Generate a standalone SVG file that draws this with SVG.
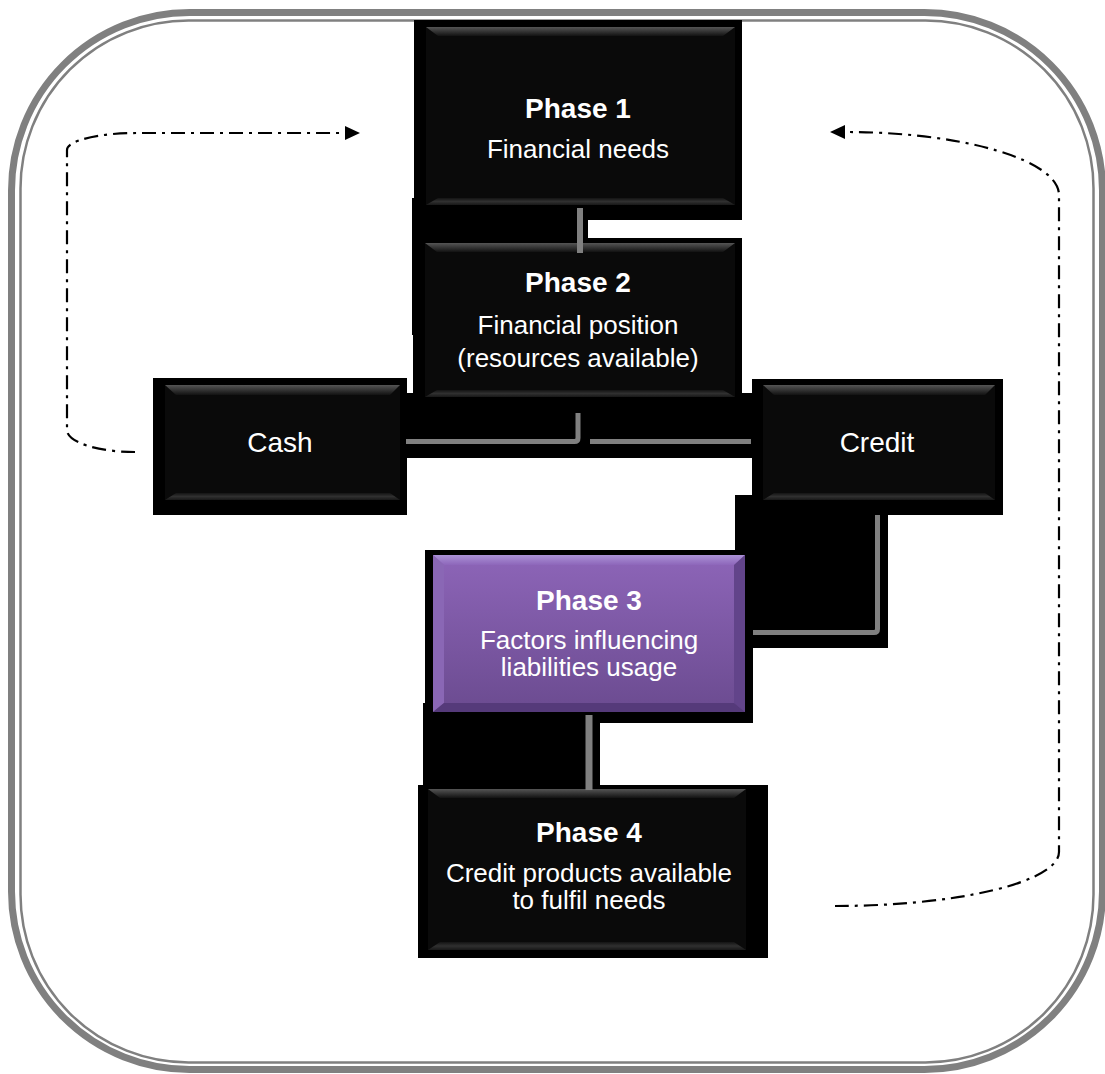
<svg xmlns="http://www.w3.org/2000/svg" width="1105" height="1074" viewBox="0 0 1105 1074">
<defs>
<style>
.frame{fill:none;stroke:#808080}
.outer{fill:#000}
.face{fill:#0a0a0a}
.bt{fill:url(#bevTop)}
.bb{fill:url(#bevBot)}
.conn{fill:none;stroke:#808080;stroke-width:5}
.dash{fill:none;stroke:#000;stroke-width:2.2;stroke-dasharray:14 6 3 6}
.t{font-family:"Liberation Sans",Arial,sans-serif;fill:#fff;text-anchor:middle}
.b{font-weight:bold;font-size:28px}
.r{font-size:26px}
.c{font-size:28px}
</style>
<linearGradient id="bevTop" x1="0" y1="0" x2="0" y2="1">
<stop offset="0" stop-color="#555"/>
<stop offset="1" stop-color="#121212"/>
</linearGradient>
<linearGradient id="bevBot" x1="0" y1="0" x2="0" y2="1">
<stop offset="0" stop-color="#141414"/>
<stop offset="0.5" stop-color="#303030"/>
<stop offset="1" stop-color="#181818"/>
</linearGradient>
<linearGradient id="purp" x1="0" y1="0" x2="0" y2="1">
<stop offset="0" stop-color="#8d65b8"/>
<stop offset="1" stop-color="#6b4b90"/>
</linearGradient>
<linearGradient id="purpTop" x1="0" y1="0" x2="0" y2="1">
<stop offset="0" stop-color="#ab92d6"/>
<stop offset="1" stop-color="#8d66ba"/>
</linearGradient>
<marker id="arr" markerUnits="userSpaceOnUse" markerWidth="16" markerHeight="14" refX="5" refY="7" orient="auto">
<path d="M0,0 L15,7 L0,14 z" fill="#000"/>
</marker>
</defs>
<rect width="1105" height="1074" fill="#fff"/>
<g id="frame">
<rect class="frame" x="11.5" y="12.5" width="1091" height="1057" rx="178" stroke-width="7"/>
<rect class="frame" x="20.5" y="20.5" width="1073" height="1042" rx="168" stroke-width="2.5"/>
</g>
<g id="connector-backing">
<rect class="outer" x="412" y="198" width="176" height="137"/>
<rect class="outer" x="405" y="393" width="347" height="65"/>
<rect class="outer" x="735" y="495" width="153" height="153"/>
<rect class="outer" x="423" y="703" width="177" height="87"/>
</g>
<g id="phase1">
<rect class="outer" x="414" y="20" width="328" height="200"/>
<rect class="face" x="426" y="27" width="309" height="178"/>
<polygon class="bt" points="426,27 735,27 723,36 438,36"/>
<polygon class="bb" points="438,198 723,198 735,205 426,205"/>
<text class="t b" x="578" y="118">Phase 1</text>
<text class="t r" x="578" y="158">Financial needs</text>
</g>
<g id="phase2">
<rect class="outer" x="413" y="238" width="329" height="175"/>
<rect class="face" x="425" y="243" width="310" height="154"/>
<polygon class="bt" points="425,243 735,243 723,252 437,252"/>
<polygon class="bb" points="437,390 723,390 735,397 425,397"/>
<text class="t b" x="578" y="292">Phase 2</text>
<text class="t r" x="578" y="334">Financial position</text>
<text class="t r" x="578" y="367">(resources available)</text>
</g>
<g id="cash">
<rect class="outer" x="153" y="378" width="254" height="137"/>
<rect class="face" x="165" y="385" width="235" height="115"/>
<polygon class="bt" points="165,385 400,385 390,395 176,395"/>
<polygon class="bb" points="176,493 390,493 400,500 165,500"/>
<text class="t c" x="280" y="452">Cash</text>
</g>
<g id="credit">
<rect class="outer" x="752" y="379" width="251" height="136"/>
<rect class="face" x="763" y="385" width="232" height="115"/>
<polygon class="bt" points="763,385 995,385 985,395 774,395"/>
<polygon class="bb" points="774,493 985,493 995,500 763,500"/>
<text class="t c" x="877" y="452">Credit</text>
</g>
<g id="phase3">
<rect class="outer" x="425" y="550" width="328" height="173"/>
<rect x="433" y="555" width="312" height="157" fill="url(#purp)"/>
<polygon points="433,555 745,555 734,565 444,565" fill="url(#purpTop)"/>
<polygon points="433,555 444,565 444,703 433,712" fill="#8a67b5"/>
<polygon points="745,555 734,565 734,703 745,712" fill="#62448a"/>
<polygon points="444,703 734,703 745,712 433,712" fill="#553a7a"/>
<text class="t b" x="589" y="610">Phase 3</text>
<text class="t r" x="589" y="649">Factors influencing</text>
<text class="t r" x="589" y="676">liabilities usage</text>
</g>
<g id="phase4">
<rect class="outer" x="418" y="785" width="350" height="173"/>
<rect class="face" x="428" y="789" width="318" height="161"/>
<polygon class="bt" points="428,789 746,789 734,798 440,798"/>
<polygon class="bb" points="440,942 734,942 746,950 428,950"/>
<text class="t b" x="589" y="842">Phase 4</text>
<text class="t r" x="589" y="882">Credit products available</text>
<text class="t r" x="589" y="909">to fulfil needs</text>
</g>
<g id="connectors">
<path class="conn" style="stroke-width:6" d="M580 208 V253"/>
<path class="conn" d="M406 441.5 H574.5 Q578 441.5 578 438 V413"/>
<path class="conn" d="M590 441.5 H751"/>
<path class="conn" d="M877.5 515 V629 Q877.5 632.5 874 632.5 H753"/>
<path class="conn" style="stroke-width:7" d="M589 715 V790"/>
<path class="dash" d="M135 452 A68 22 0 0 1 67 430 V150 A70 17 0 0 1 137 133 H350" marker-end="url(#arr)"/>
<path class="dash" d="M835 906 A224 54 0 0 0 1059 852 V195 A213 63 0 0 0 845 132 H840" marker-end="url(#arr)"/>
</g>
</svg>
